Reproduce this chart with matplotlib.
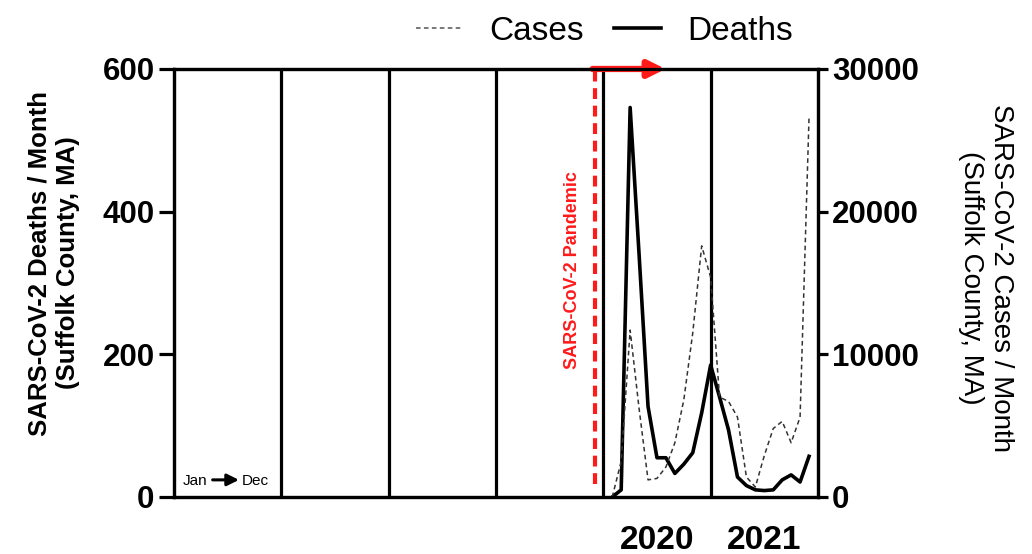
import numpy as np
import matplotlib.pyplot as plt
from matplotlib.lines import Line2D

plt.rcParams['font.family'] = ['Liberation Sans', 'DejaVu Sans']

# monthly values, Feb 2020 .. Dec 2021
months = ['2020-02', '2020-03', '2020-04', '2020-05', '2020-06', '2020-07', '2020-08',
          '2020-09', '2020-10', '2020-11', '2020-12',
          '2021-01', '2021-02', '2021-03', '2021-04', '2021-05', '2021-06', '2021-07',
          '2021-08', '2021-09', '2021-10', '2021-11', '2021-12']
deaths = [0, 10, 546, 340, 127, 55, 55, 33, 46, 62, 118,
          185, 140, 94, 28, 16, 10, 9, 10, 24, 31, 21, 57]
cases = [0, 2500, 11700, 6200, 1200, 1300, 2100, 3800, 6800, 11500, 17600,
         15400, 7000, 6700, 5600, 1400, 700, 2900, 4800, 5300, 3800, 5600, 26600]

years = [2016, 2017, 2018, 2019, 2020, 2021]
year_labels = ['', '', '', '', '2020', '2021']
pandemic_start = 2019.92

x = [int(m[:4]) + (int(m[5:]) - 1) / 12 for m in months]

fig = plt.figure(figsize=(10.32, 5.54), dpi=100)
ax = fig.add_axes([0.1686, 0.1029, 0.624, 0.7726])
ax2 = ax.twinx()

ax.set_xlim(years[0], years[-1] + 1)
ax.set_ylim(0, 600)
ax2.set_ylim(0, 30000)

for y in years[1:]:
    ax.axvline(y, color='black', lw=2.3, zorder=1)

ax.plot(x, deaths, color='black', lw=2.6, zorder=3)
ax2.plot(x, cases, color='#333333', lw=1.1, dashes=(3, 2.2))

# pandemic marker
ax.axvline(pandemic_start, ymin=0.03, ymax=1, color='#ff1a1a', lw=3, dashes=(2.6, 1.6), zorder=4)
ax.annotate('', xy=(2020.58, 600), xytext=(pandemic_start - 0.02, 600),
            arrowprops=dict(arrowstyle='-|>,head_length=1.0,head_width=0.5', color='#ff1a1a',
                            lw=4.5, shrinkA=0, shrinkB=0), annotation_clip=False, zorder=5)
ax.text(2019.71, 318, 'SARS-CoV-2 Pandemic', color='#ff1a1a', rotation=90,
        fontsize=13, fontweight='bold', ha='center', va='center')

# Jan -> Dec hint
ax.text(2016.085, 22, 'Jan', fontsize=11, ha='left', va='center')
ax.annotate('', xy=(2016.605, 24), xytext=(2016.36, 24),
            arrowprops=dict(arrowstyle='-|>,head_length=0.7,head_width=0.35', color='black',
                            lw=2.2, shrinkA=0, shrinkB=0))
ax.text(2016.63, 22, 'Dec', fontsize=11, ha='left', va='center')

for a in (ax, ax2):
    for s in a.spines.values():
        s.set_linewidth(2.3)

ax.set_xticks([y + 0.5 for y in years])
ax.set_xticklabels(year_labels, fontsize=24, fontweight='bold')
ax.tick_params(axis='x', length=0, pad=20)

ax.set_yticks([0, 200, 400, 600])
ax.tick_params(axis='y', length=11, width=2.3, labelsize=22.5, pad=3)
for t in ax.get_yticklabels():
    t.set_fontweight('bold')
ax2.set_yticks([0, 10000, 20000, 30000])
ax2.tick_params(axis='y', length=7, width=2.3, labelsize=22.5, pad=3)
for t in ax2.get_yticklabels():
    t.set_fontweight('bold')

# axis titles placed directly
fig.text(54 / 1032, 1 - 263 / 554, 'SARS-CoV-2 Deaths / Month\n(Suffolk County, MA)',
         fontsize=18.5, fontweight='bold', rotation=90, ha='center', va='center',
         multialignment='center', linespacing=1.25)
fig.text(986 / 1032, 1 - 278 / 554, 'SARS-CoV-2 Cases / Month\n(Suffolk County, MA)',
         fontsize=20, rotation=-90, ha='center', va='center',
         multialignment='center', linespacing=1.2)

handles = [Line2D([], [], color='#555555', lw=1.1, dashes=(3, 2.2)),
           Line2D([], [], color='black', lw=2.6)]
fig.legend(handles, ['Cases', 'Deaths'], loc='upper center', bbox_to_anchor=(0.586, 1.025),
           ncol=2, frameon=False, fontsize=24, handlelength=1.4, handletextpad=0.8,
           columnspacing=0.9)

fig.savefig('out.png', dpi=100)
